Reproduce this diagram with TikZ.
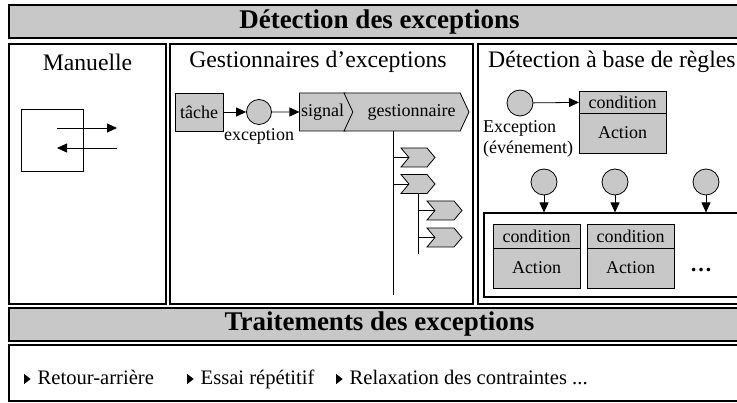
\documentclass[tikz,border=0pt]{standalone}
\usepackage{fontspec}
\setmainfont{Liberation Serif}
\usetikzlibrary{positioning,arrows.meta,shapes.symbols}
\definecolor{boxgray}{RGB}{200,200,200}
\newcommand{\puce}{\tikz[baseline=0pt]\fill (0,1pt) -- (0,11pt) -- (6.5pt,6pt) -- cycle;\hspace{7pt}}

\begin{document}
\begin{tikzpicture}[
	x=1pt, y=-1pt,
	banner/.style={rectangle, draw, line width=1.1pt, fill=boxgray, minimum width=741pt, minimum height=33pt, font=\fontsize{27}{29}\selectfont\bfseries},
	panel/.style={rectangle, draw, line width=1.1pt},
	ptitle/.style={font=\fontsize{23.7}{25}\selectfont, inner sep=0pt},
	txt/.style={font=\fontsize{18}{21}\selectfont, inner sep=0pt},
	item/.style={font=\fontsize{20.6}{22}\selectfont, inner sep=0pt},
	graybox/.style={rectangle, draw, fill=boxgray, thick, inner sep=0pt, outer sep=0pt, font=\fontsize{18}{20}\selectfont},
	evt/.style={circle, draw, fill=boxgray, thick, minimum size=26pt, inner sep=0pt},
	chevron/.style={signal, signal to=east, signal from=west, draw, fill=boxgray, thick, inner sep=0pt},
	arr/.style={-{Triangle[length=10pt,width=9pt]}, thick},
	]
	\useasboundingbox (0,0) rectangle (737,403);
	\clip (0,0) rectangle (737,403);
	
	%Banners and panels
	\node[banner]		(detect)	at (379.5,21.5)		{Détection des exceptions};
	\node[panel, minimum width=157pt, minimum height=260pt]	(manu)	at (87.5,174)	{};
	\node[panel, minimum width=303pt, minimum height=260pt]	(gpanel)	at (321.5,174)	{};
	\node[panel, minimum width=292pt, minimum height=260pt]	(rpanel)	at (624,174)	{};
	\node[banner]		(treat)	at (379.5,324.5)	{Traitements des exceptions};
	\node[panel, minimum width=751pt, minimum height=56pt]	(tbox)	at (384.5,373)	{};
	
	\node[ptitle]		(manut)	at (87.5,62)		{Manuelle};
	\node[ptitle]		(gpant)	at (318,62)			{Gestionnaires d’exceptions};
	\node[ptitle, anchor=west]	(rpant)	at (488,62)	{Détection à base de règles};
	
	%Manuelle
	\node[draw, thick, minimum size=62pt]	(sq)	at (52,140)	{};
	\coordinate (m1) at (57,128);
	\coordinate (m2) at (117,128);
	\coordinate (m3) at (117,148);
	\coordinate (m4) at (57,148);
	\draw[arr] (m1) -- (m2);
	\draw[arr] (m3) -- (m4);
	
	%Gestionnaires
	\node[graybox, minimum width=48pt, minimum height=38pt]	(tache)	at (199,112)	{tâche};
	\node[evt, minimum size=25pt]	(exc)	at (259,112)	{};
	\node[txt]			(excl)	at (259,136)		{exception};
	\node[graybox, signal, signal to=east, signal pointer angle=130, minimum width=55pt, minimum height=38pt]	(sig)	at (322.5,112)	{signal};
	\node[chevron, signal pointer angle=130, minimum width=125pt, minimum height=38pt, font=\fontsize{18}{20}\selectfont]	(gest)	at (406.5,112)	{\hspace{10pt}gestionnaire};
	\node[chevron, signal pointer angle=100, minimum width=34pt, minimum height=19pt]	(c1)	at (418,157.5)	{};
	\node[chevron, signal pointer angle=100, minimum width=34pt, minimum height=19pt]	(c2)	at (418,184)	{};
	\node[chevron, signal pointer angle=100, minimum width=35pt, minimum height=19pt]	(c3)	at (444.5,210.5)	{};
	\node[chevron, signal pointer angle=100, minimum width=35pt, minimum height=19pt]	(c4)	at (444.5,237.5)	{};
	\coordinate (gend) at (393,295);
	\coordinate (c2end) at (418,254);
	
	\draw[arr] (tache) -- (exc);
	\draw[arr] (exc) -- (sig);
	\draw[thick] (gest.south -| gend) -- (gend);
	\draw[thick] (gend |- c1.west) -- (c1.west);
	\draw[thick] (gend |- c2.west) -- (c2.west);
	\draw[thick] (c2.south) -- (c2end);
	\draw[thick] (c2end |- c3.west) -- (c3.west);
	\draw[thick] (c2end |- c4.west) -- (c4.west);
	
	%Regles
	\node[evt]			(e0)	at (520,103)		{};
	\node[graybox, minimum width=87pt, minimum height=22pt]	(cond0)	at (622.5,102)	{condition};
	\node[graybox, minimum width=87pt, minimum height=40pt, below=0pt of cond0]	(act0)	{Action};
	\node[txt, align=left, anchor=north west]	(e0l)	at (483,120)	{Exception\\(événement)};
	\draw[arr] (e0) -- (cond0);
	
	\node[panel, minimum width=296pt, minimum height=84pt]	(rules)	at (632,255)	{};
	\node[evt]			(e1)	at (544,182)		{};
	\node[evt]			(e2)	at (615,182)		{};
	\node[evt]			(e3)	at (706,182)		{};
	\draw[arr] (e1) -- (e1 |- rules.north);
	\draw[arr] (e2) -- (e2 |- rules.north);
	\draw[arr] (e3) -- (e3 |- rules.north);
	
	\node[graybox, minimum width=87pt, minimum height=24pt]	(cond1)	at (536.5,236)	{condition};
	\node[graybox, minimum width=87pt, minimum height=40pt, below=0pt of cond1]	(act1)	{Action};
	\node[graybox, minimum width=87pt, minimum height=24pt]	(cond2)	at (630.5,236)	{condition};
	\node[graybox, minimum width=87pt, minimum height=40pt, below=0pt of cond2]	(act2)	{Action};
	\node[txt, anchor=base, font=\fontsize{22}{22}\selectfont\bfseries]	(dots)	at (701,272)	{…};
	
	%Traitements
	\node[item, anchor=base west]	(r1)	at (24,385)		{\puce Retour-arrière};
	\node[item, anchor=base west]	(r2)	at (187,385)	{\puce Essai répétitif};
	\node[item, anchor=base west]	(r3)	at (336,385)	{\puce Relaxation des contraintes ...};
	
\end{tikzpicture}
\end{document}
